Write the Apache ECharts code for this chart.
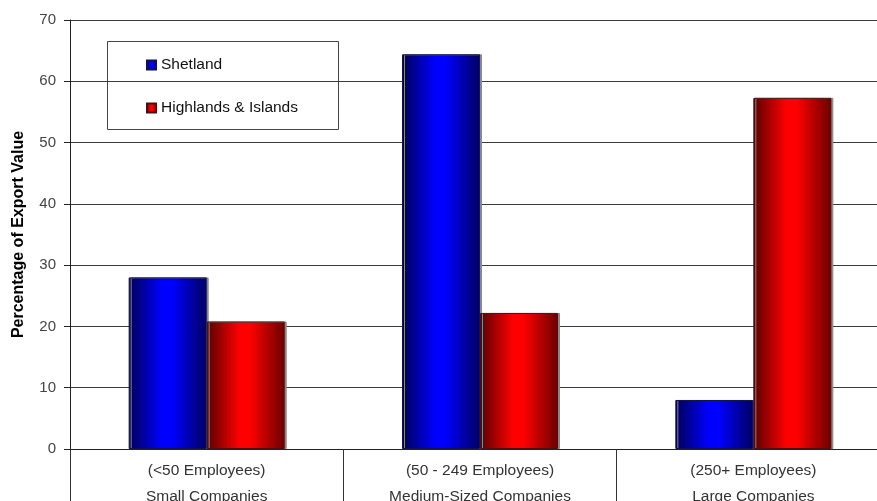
<!DOCTYPE html>
<html>
<head>
<meta charset="utf-8">
<script src="https://cdn.jsdelivr.net/npm/echarts@6/dist/echarts.min.js"></script>
<style>html,body{margin:0;padding:0;background:#fff}#c{width:877px;height:501px}</style>
</head>
<body>
<div id="c"></div>
<script>
const categories = ["(<50 Employees)\nSmall Companies", "(50 - 249 Employees)\nMedium-Sized Companies", "(250+ Employees)\nLarge Companies"];
const seriesNames = ["Shetland", "Highlands & Islands"];
const shetland = [28.0, 64.4, 8.0];
const highlands = [20.8, 22.2, 57.3];
const yTicks = { min: 0, max: 70, interval: 10 };

function grad(dark, bright, dark2) {
  return new echarts.graphic.LinearGradient(0, 0, 1, 0, [
    { offset: 0, color: dark },
    { offset: 0.42, color: bright },
    { offset: 0.55, color: bright },
    { offset: 1, color: dark2 }
  ]);
}

const chart = echarts.init(document.getElementById('c'), null, { renderer: 'canvas' });
chart.setOption({
  backgroundColor: '#fff',
  animation: false,
  textStyle: { fontFamily: 'Liberation Sans, Arial, sans-serif' },
  grid: { left: 70, top: 20, width: 820, height: 429, containLabel: false, outerBoundsMode: 'none' },
  legend: {
    orient: 'vertical',
    left: 146, top: 57,
    padding: 0,
    itemWidth: 9, itemHeight: 9,
    itemGap: 27,
    icon: 'rect',
    textStyle: { fontSize: 15.5, color: '#111', fontFamily: 'Liberation Sans, Arial, sans-serif' },
    data: seriesNames
  },
  graphic: [{
    type: 'rect', left: 107, top: 41, z: 0,
    shape: { width: 231, height: 88 },
    style: { fill: '#fff', stroke: '#444', lineWidth: 1 }
  }],
  xAxis: {
    type: 'category',
    data: categories,
    boundaryGap: true,
    axisLine: { lineStyle: { color: '#222', width: 1 } },
    axisTick: { show: true, length: 60, lineStyle: { color: '#333' } },
    axisLabel: { interval: 0, margin: 9, lineHeight: 26, fontSize: 15.5, color: '#333' },
    splitLine: { show: false }
  },
  yAxis: {
    type: 'value',
    min: yTicks.min, max: yTicks.max, interval: yTicks.interval,
    name: 'Percentage of Export Value',
    nameLocation: 'middle',
    nameGap: 43,
    nameTextStyle: { fontFamily: 'Liberation Sans Narrow, Arial Narrow, sans-serif', fontWeight: 'bold', fontSize: 16, color: '#000' },
    axisLine: { show: true, lineStyle: { color: '#222' } },
    axisTick: { show: true, length: 6, lineStyle: { color: '#222' } },
    axisLabel: { fontSize: 15, color: '#444', margin: 14 },
    splitLine: { lineStyle: { color: '#3a3a3a', width: 1 } }
  },
  series: [
    {
      name: seriesNames[0], type: 'bar', data: shetland,
      barWidth: 78, barGap: '0%',
      itemStyle: {
        color: grad('#000058', '#0000ff', '#000060'),
        borderColor: '#10104a', borderWidth: 1,
        shadowColor: '#888', shadowOffsetX: 2, shadowOffsetY: 0, shadowBlur: 0
      }
    },
    {
      name: seriesNames[1], type: 'bar', data: highlands,
      barWidth: 78,
      itemStyle: {
        color: grad('#5a0000', '#ff0000', '#6a0000'),
        borderColor: '#4a1010', borderWidth: 1,
        shadowColor: '#888', shadowOffsetX: 2, shadowOffsetY: 0, shadowBlur: 0
      }
    }
  ]
});
</script>
</body>
</html>
